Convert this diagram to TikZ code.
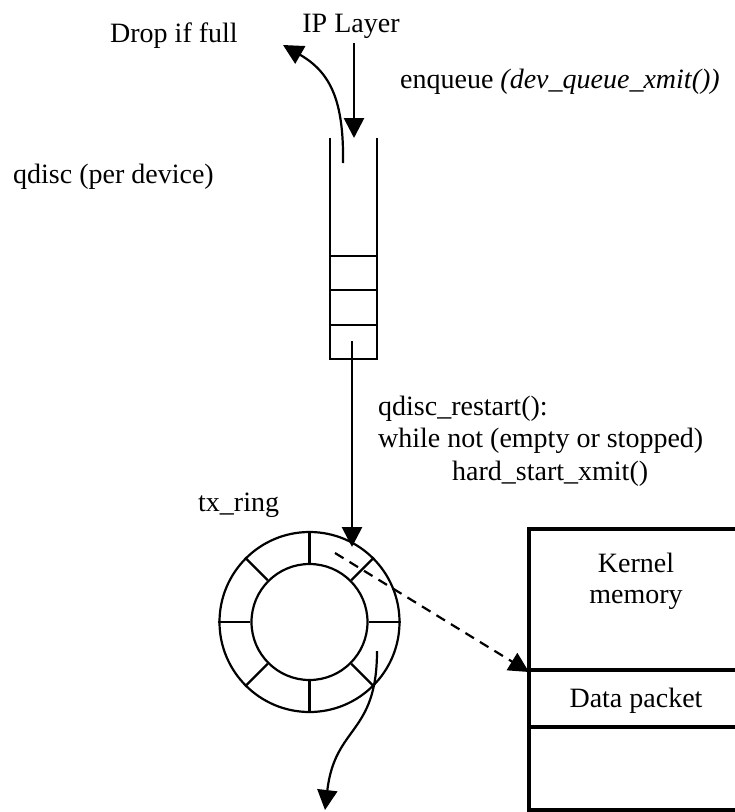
\documentclass[tikz,border=0pt]{standalone}
\usepackage{fontspec}
\setmainfont{Liberation Serif}
\usetikzlibrary{arrows.meta}
\begin{document}
\begin{tikzpicture}[x=1pt,y=-1pt,
  lbl/.style={inner sep=0pt, font=\fontsize{28}{32}\selectfont},
  wall/.style={line width=2.8pt},
  headtri/.style={-{Triangle[length=20pt,width=20pt]}},
  flow/.style={line width=2.8pt, headtri},
  curvedarrow/.style={line width=2.2pt, headtri},
  ringline/.style={line width=2.2pt},
  boxline/.style={line width=3.2pt},
  ptr/.style={line width=2.2pt, dash pattern=on 10pt off 7pt, headtri}
]
\useasboundingbox (0,0) rectangle (735,812);

% labels
\node[lbl, anchor=base] (ip) at (351,32) {IP Layer};
\node[lbl, anchor=base west] (drop) at (110,42) {Drop if full};
\node[lbl, anchor=base west] (enq) at (400,88) {enqueue \textit{(dev\_queue\_xmit())}};
\node[lbl, anchor=base west] (qd) at (13,183) {qdisc (per device)};
\node[lbl, anchor=base west] (rs1) at (378,415) {qdisc\_restart():};
\node[lbl, anchor=base west] (rs2) at (378,447) {while not (empty or stopped)};
\node[lbl, anchor=base west] (rs3) at (452,480) {hard\_start\_xmit()};
\node[lbl, anchor=base west] (txr) at (198,511) {tx\_ring};

% queue of the device
\coordinate (qtl) at (330,138);
\coordinate (qtr) at (377,138);
\draw[wall] (qtl) -- (330,359) -- (377,359) -- (qtr);
\foreach \y in {256,290,325} \draw[wall] (330,\y) -- (377,\y);

% enqueue from the IP layer and the drop path
\coordinate (ipout) at (354,43);
\coordinate (qin) at (354,138);
\draw[flow] (ipout) -- (qin);
\coordinate (dropstart) at (343,163);
\coordinate (dropend) at (283,45);
\draw[curvedarrow] (dropstart) .. controls (344,100) and (330,72) .. (dropend);

% transmit ring
\node[circle, draw, ringline, inner sep=0pt, minimum size=180pt] (ring) at (309.5,622) {};
\node[circle, draw, ringline, inner sep=0pt, minimum size=116pt] (hub) at (309.5,622) {};
\foreach \a in {0,45,...,315} \draw[ringline] (hub.\a) -- (ring.\a);

% dequeue into the ring
\coordinate (qout) at (352,341);
\coordinate (ringin) at (352,547);
\draw[flow] (qout) -- (ringin);

% kernel memory
\draw[boxline] (737,529) -- (529,529) -- (529,810) -- (737,810);
\draw[boxline] (529,670) -- (737,670);
\draw[boxline] (529,727) -- (737,727);
\node[lbl, anchor=base] (km1) at (636,572) {Kernel};
\node[lbl, anchor=base] (km2) at (636,603) {memory};
\node[lbl, anchor=base] (pkt) at (636,707) {Data packet};

% descriptor pointing at the packet
\coordinate (desc) at (335,553);
\coordinate (pktin) at (529,672);
\draw[ptr] (desc) -- (pktin);

% packet leaving the ring
\coordinate (txstart) at (377,651);
\coordinate (txend) at (325,810);
\draw[curvedarrow] (txstart) .. controls (377,735) and (335,725) .. (txend);
\end{tikzpicture}
\end{document}
